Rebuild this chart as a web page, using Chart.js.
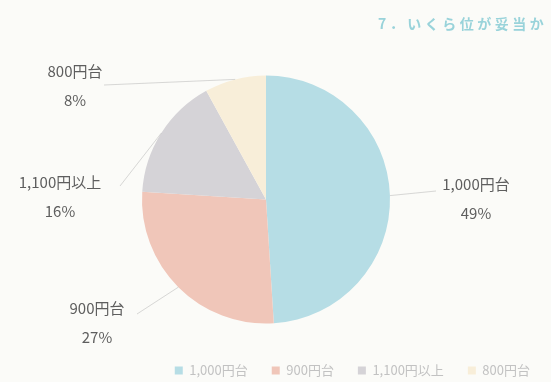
<!DOCTYPE html>
<html>
<head>
<meta charset="utf-8">
<script src="https://cdn.jsdelivr.net/npm/chart.js@4"></script>
<style>
  html, body { margin: 0; padding: 0; background: #fbfbf8; }
  #wrap { width: 551px; height: 382px; position: relative; overflow: hidden; }
  #pie { position: absolute; left: -22px; top: 0; }
</style>
</head>
<body>
<div id="wrap"><canvas id="pie" width="576" height="382"></canvas></div>
<script>
// data
const categories = ['1,000円台', '900円台', '1,100円以上', '800円台'];
const shares = [49, 27, 16, 8];
const sliceColors = ['#b6dde5', '#f0c6b9', '#d5d3d7', '#f8eed9'];

// where the outside labels sit, and where their leader lines stop (page px)
const labelSpots = [[476, 198], [97, 322], [60, 196], [75, 85]];
const lineEnds = [[436, 191], [137, 314], [120, 186], [104, 85]];

const SHIFT = 22; // canvas is slid left so the legend can run to the right edge
const FONT = '"Noto Sans CJK JP", "Noto Sans", sans-serif';

const outsideLabels = {
  id: 'outsideLabels',
  afterDatasetsDraw(chart) {
    const ctx = chart.ctx;
    const meta = chart.getDatasetMeta(0);
    const total = shares.reduce((a, b) => a + b, 0);
    ctx.save();
    meta.data.forEach((arc, i) => {
      const p = arc.getProps(['x', 'y', 'startAngle', 'endAngle', 'outerRadius'], true);
      const mid = (p.startAngle + p.endAngle) / 2;
      const ex = p.x + Math.cos(mid) * p.outerRadius;
      const ey = p.y + Math.sin(mid) * p.outerRadius;
      // leader line
      ctx.strokeStyle = 'rgba(170,170,170,0.45)';
      ctx.lineWidth = 1;
      ctx.beginPath();
      ctx.moveTo(ex, ey);
      ctx.lineTo(lineEnds[i][0] + SHIFT, lineEnds[i][1]);
      ctx.stroke();
      // label text
      const [lx, ly] = labelSpots[i];
      ctx.fillStyle = '#5e5e5e';
      ctx.font = '15px ' + FONT;
      ctx.textAlign = 'center';
      ctx.textBaseline = 'middle';
      ctx.fillText(categories[i], lx + SHIFT, ly - 14);
      ctx.fillText(Math.round(shares[i] / total * 100) + '%', lx + SHIFT, ly + 15);
    });
    // page heading, cut off by the right edge in the scan
    ctx.fillStyle = '#99d3da';
    ctx.font = '600 14px ' + FONT;
    ctx.textAlign = 'left';
    ctx.textBaseline = 'middle';
    ctx.letterSpacing = '3.5px';
    ctx.fillText('7．いくら位が妥当か', 378 + SHIFT, 24);
    ctx.restore();
  }
};

const chart = new Chart(document.getElementById('pie').getContext('2d'), {
  type: 'pie',
  data: {
    labels: categories,
    datasets: [{
      data: shares,
      backgroundColor: sliceColors,
      borderWidth: 0,
      radius: 124
    }]
  },
  options: {
    responsive: false,
    animation: false,
    layout: {
      padding: { top: 59, left: 0, right: 0, bottom: -5 }
    },
    plugins: {
      tooltip: { enabled: false },
      legend: {
        position: 'bottom',
        align: 'end',
        labels: {
          boxWidth: 8,
          boxHeight: 8,
          padding: 24,
          color: '#c2c2c2',
          font: { size: 13, family: FONT }
        }
      }
    }
  },
  plugins: [outsideLabels]
});
</script>
</body>
</html>
